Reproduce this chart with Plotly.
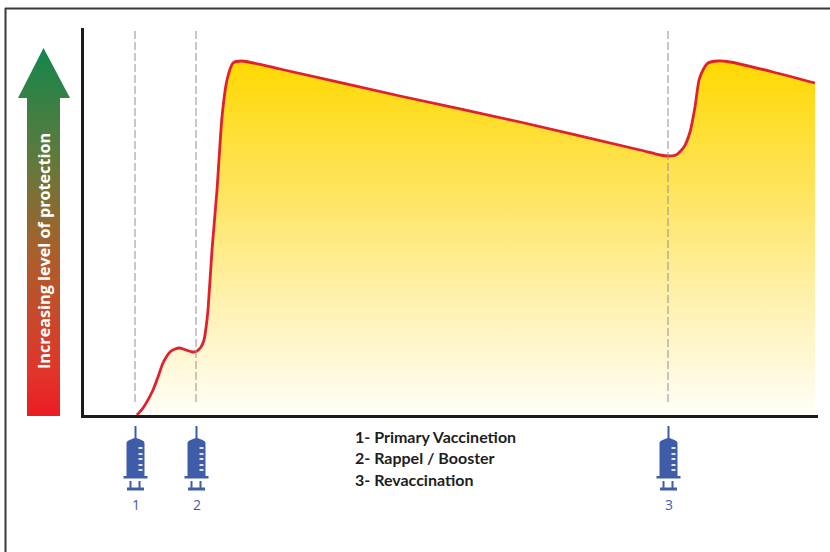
import plotly.graph_objects as go

# Chart values (time in arbitrary units from the y axis, protection in arbitrary units)
time_values = [55, 61, 71, 76, 81, 88, 93, 98, 104, 110, 115, 119, 122, 124, 126, 130, 135, 140, 145, 151, 160, 198, 318, 438, 558, 578, 586, 594, 602, 608, 613, 617, 621, 626, 636, 648, 691, 733]
protection_values = [0, 7, 25, 38, 52, 63, 66, 67, 65, 63, 64, 68, 75, 87, 105, 165, 225, 298, 335, 352, 354, 346, 319, 293, 265, 260, 259, 260, 268, 283, 308, 335, 345, 352, 354, 353, 343, 332]
dose_positions = [53, 114, 586]
dose_labels = ["1", "2", "3"]
legend_lines = ["1- Primary Vaccinetion", "2- Rappel / Booster", "3- Revaccination"]
legend_rows = [436, 457, 479]
axis_title = "Increasing level of protection"

W, H = 830, 552
L, R, T, B = 84, 818, 28, 415
BLUE = "#3F5CA8"

fig = go.Figure()

# Area and curve
fig.add_trace(go.Scatter(
    x=time_values, y=protection_values, mode="lines",
    line=dict(color="#E0202C", width=2.8, shape="spline", smoothing=0.6),
    fill="tozeroy",
    fillgradient=dict(type="vertical", start=0, stop=355,
                      colorscale=[[0, "#FFFEF8"], [0.25, "#FFF4C0"], [0.6, "#FEE566"], [1, "#FFD800"]]),
    hoverinfo="skip", showlegend=False, xaxis="x", yaxis="y"))

# Dashed dose markers
for d in dose_positions:
    fig.add_shape(type="line", xref="x", yref="y", x0=d, x1=d, y0=13, y1=387,
                  line=dict(color="#919191", width=1, dash="8px,3px"), layer="above")

# Gradient arrow (pixel-space overlay axes)
fig.add_trace(go.Scatter(
    x=[27, 60, 60, 70, 43.5, 18, 27, 27], y=[416, 416, 98, 98, 48, 98, 98, 416],
    mode="none", fill="toself",
    fillgradient=dict(type="vertical", start=416, stop=48,
                      colorscale=[[0, "#EC1C24"], [0.12, "#E1352A"], [0.45, "#A8602C"], [0.7, "#5F7A3C"], [1, "#14864C"]]),
    hoverinfo="skip", showlegend=False, xaxis="x2", yaxis="y2"))

# Syringes
def syringe(cx):
    body = (f"M{cx-9},476 L{cx-9},443 Q{cx-9},441 {cx-6},440 L{cx-1},438 L{cx-1},426 L{cx+1},426 L{cx+1},438 "
            f"L{cx+6},440 Q{cx+9},441 {cx+9},443 L{cx+9},476 L{cx+12},476 L{cx+12},478.5 L{cx-12},478.5 L{cx-12},476 Z")
    plunger = (f"M{cx-6},481 L{cx-4},481 L{cx-4},487.5 L{cx+3},487.5 L{cx+3},481 L{cx+5},481 "
               f"L{cx+5},487.5 L{cx+8.5},487.5 L{cx+8.5},490.5 L{cx-8.5},490.5 L{cx-8.5},487.5 L{cx-6},487.5 Z")
    for p in (body, plunger):
        fig.add_shape(type="path", xref="x2", yref="y2", path=p,
                      fillcolor=BLUE, line=dict(width=0), layer="above")
    for yy in (448, 454, 459, 465, 470):
        fig.add_shape(type="rect", xref="x2", yref="y2", x0=cx+3, x1=cx+7, y0=yy-1, y1=yy+1,
                      fillcolor="#DDE3F2", line=dict(width=0), layer="above")

for d, lab in zip(dose_positions, dose_labels):
    cx = d + 82.5
    syringe(cx)
    fig.add_annotation(x=cx, y=504, xref="x2", yref="y2", text=lab, showarrow=False,
                       font=dict(family="Open Sans", size=14, color=BLUE))

# Frame
fig.add_shape(type="line", xref="x2", yref="y2", x0=5.5, x1=5.5, y0=8, y1=552,
              line=dict(color="#3A3A3A", width=2))
fig.add_shape(type="line", xref="x2", yref="y2", x0=5, x1=830, y0=8.5, y1=8.5,
              line=dict(color="#3A3A3A", width=2))

# Texts
fig.add_annotation(x=44, y=251, xref="x2", yref="y2", text=f"<b>{axis_title}</b>", textangle=-90,
                   showarrow=False, font=dict(family="Open Sans", size=16.2, color="white"))
for t, r in zip(legend_lines, legend_rows):
    fig.add_annotation(x=353, y=r, xref="x2", yref="y2", text=t, showarrow=False, xanchor="left",
                       font=dict(family="Lato", size=16, color="#1E1E1E", weight=700))

fig.update_layout(
    width=W, height=H, margin=dict(l=0, r=0, t=0, b=0),
    paper_bgcolor="white", plot_bgcolor="rgba(0,0,0,0)", showlegend=False,
    xaxis=dict(domain=[L / W, R / W], range=[2, R - 82], showgrid=False, zeroline=False,
               showticklabels=False, ticks="", showline=True, linecolor="#1A1A1A", linewidth=3),
    yaxis=dict(domain=[1 - B / H, 1 - T / H], range=[0, B - T], showgrid=False, zeroline=False,
               showticklabels=False, ticks="", showline=True, linecolor="#1A1A1A", linewidth=3),
    xaxis2=dict(domain=[0, 1], range=[0, W], visible=False, anchor="y2"),
    yaxis2=dict(domain=[0, 1], range=[H, 0], visible=False, anchor="x2"),
)

fig.write_html("out.html", config=dict(displayModeBar=False),
               post_script="document.body.style.margin='0';document.body.style.overflow='hidden';")
